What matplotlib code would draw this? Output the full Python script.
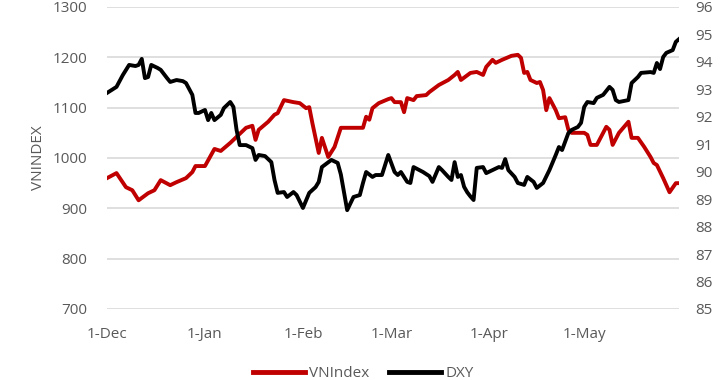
import matplotlib
matplotlib.use("Agg")
import matplotlib.pyplot as plt
import matplotlib.dates as mdates
import pandas as pd

start = pd.Timestamp("2017-12-01")

# days counted from 1-Dec
vn_days = [0, 3, 6, 8, 10, 13, 15, 17, 20, 22, 25, 27, 28, 31, 34, 36, 39, 41, 44, 46,
           47, 48, 51, 53, 54, 56, 59, 61, 63, 64, 65, 67, 68, 70, 72, 74, 77, 81, 82, 83,
           84, 86, 89, 90, 91, 93, 94, 95, 97, 98, 101, 102, 105, 108, 110, 111, 112, 115, 117, 119,
           120, 122, 123, 125, 128, 130, 131, 132, 133, 134, 136, 137, 138, 139, 140, 142, 143, 145, 146, 147,
           151, 152, 153, 155, 158, 159, 160, 162, 165, 166, 168, 170, 172, 173, 174, 176, 178, 180, 181]
vn_vals = [960, 970, 942, 936, 916, 930, 936, 956, 946, 952, 960, 972, 984, 984, 1018, 1014, 1030, 1042, 1060, 1064,
           1036, 1056, 1072, 1086, 1089, 1115, 1111, 1109, 1099, 1101, 1069, 1010, 1040, 1002, 1022, 1060, 1060, 1060, 1082, 1076,
           1099, 1109, 1117, 1119, 1111, 1111, 1091, 1119, 1115, 1123, 1125, 1131, 1145, 1155, 1165, 1171, 1155, 1169, 1171, 1165,
           1181, 1195, 1189, 1195, 1203, 1205, 1199, 1169, 1171, 1155, 1149, 1151, 1135, 1095, 1119, 1095, 1079, 1081, 1056, 1050,
           1050, 1046, 1026, 1026, 1062, 1056, 1026, 1050, 1072, 1040, 1040, 1022, 1002, 990, 986, 960, 932, 950, 950]

dxy_days = [0, 3, 5, 7, 9, 10, 11, 12, 13, 14, 16, 17, 19, 20, 22, 24, 25, 27, 28, 29,
            31, 32, 33, 34, 36, 37, 39, 40, 41, 42, 44, 46, 47, 48, 50, 52, 53, 54, 56, 57,
            59, 60, 62, 64, 66, 67, 68, 71, 73, 74, 76, 78, 80, 81, 82, 84, 85, 87, 89, 91,
            92, 93, 95, 96, 97, 100, 102, 103, 105, 106, 108, 109, 110, 111, 112, 113, 114, 115, 116, 117,
            119, 120, 122, 124, 125, 126, 127, 129, 130, 132, 133, 135, 136, 138, 140, 142, 143, 144, 146, 147,
            149, 150, 151, 152, 154, 155, 157, 159, 160, 161, 162, 165, 166, 168, 169, 172, 173, 174, 175, 176,
            177, 179, 180, 181]
dxy_vals = [92.87, 93.09, 93.52, 93.89, 93.85, 93.89, 94.11, 93.41, 93.45, 93.89, 93.78, 93.71, 93.41, 93.27, 93.34, 93.30, 93.23, 92.80, 92.14, 92.14,
            92.25, 91.88, 92.14, 91.88, 92.07, 92.32, 92.54, 92.36, 91.52, 90.97, 90.97, 90.86, 90.43, 90.61, 90.57, 90.35, 89.70, 89.23, 89.26, 89.08,
            89.26, 89.15, 88.68, 89.23, 89.44, 89.63, 90.17, 90.43, 90.32, 89.90, 88.60, 89.08, 89.15, 89.59, 89.99, 89.81, 89.88, 89.88, 90.61, 89.99,
            89.88, 89.99, 89.63, 89.59, 90.17, 89.99, 89.84, 89.63, 90.17, 90.06, 89.81, 89.70, 90.35, 89.81, 89.88, 89.45, 89.25, 89.10, 88.97, 90.14,
            90.17, 89.95, 90.06, 90.17, 90.14, 90.46, 90.06, 89.81, 89.59, 89.52, 89.81, 89.63, 89.41, 89.59, 90.06, 90.61, 90.90, 90.79, 91.41, 91.52,
            91.63, 91.78, 92.36, 92.54, 92.50, 92.69, 92.80, 93.09, 92.98, 92.61, 92.54, 92.61, 93.23, 93.45, 93.60, 93.63, 93.60, 93.96, 93.74, 94.18,
            94.33, 94.43, 94.73, 94.83]

vn_dates = start + pd.to_timedelta(vn_days, unit="D")
dxy_dates = start + pd.to_timedelta(dxy_days, unit="D")

plt.rcParams['font.family'] = ['Open Sans', 'DejaVu Sans']
txt_col = '#595959'
fs = 11

fig = plt.figure(figsize=(7.27, 3.8), dpi=100)
ax = fig.add_axes([107 / 727, 1 - 309 / 380, 572 / 727, 302 / 380])
ax2 = ax.twinx()

l1, = ax.plot(vn_dates, vn_vals, color='#C00000', linewidth=2.8, label='VNIndex', zorder=3)
l2, = ax2.plot(dxy_dates, dxy_vals, color='black', linewidth=2.8, label='DXY', zorder=3)

ax.set_ylim(700, 1300)
ax.set_yticks(range(700, 1301, 100))
ax2.set_ylim(85, 96)
ax2.set_yticks(range(85, 97))
ax.set_xlim(start, start + pd.Timedelta(days=181))

ax.xaxis.set_major_locator(mdates.MonthLocator())
ax.xaxis.set_major_formatter(plt.FuncFormatter(
    lambda x, pos: "%d-%s" % (mdates.num2date(x).day, mdates.num2date(x).strftime('%b'))))

ax.grid(axis='y', color='#d9d9d9', linewidth=1.2)
ax.set_axisbelow(True)
for a in (ax, ax2):
    for s in a.spines.values():
        s.set_visible(False)
    a.tick_params(length=0, labelsize=fs, labelcolor=txt_col)
ax.tick_params(axis='y', pad=14)
ax.tick_params(axis='x', pad=13)
ax2.tick_params(axis='y', pad=12)

ax.set_ylabel('VNINDEX', color=txt_col, fontsize=fs, labelpad=5)

fig.legend(handles=[l1, l2], loc='lower center', bbox_to_anchor=(0.5, -0.04), ncol=2,
           frameon=False, fontsize=fs, handlelength=3.4, handletextpad=0.3,
           columnspacing=1.3, labelcolor=txt_col)
for line in fig.legends[0].get_lines():
    line.set_linewidth(3.5)

fig.savefig('out.png', dpi=100)
